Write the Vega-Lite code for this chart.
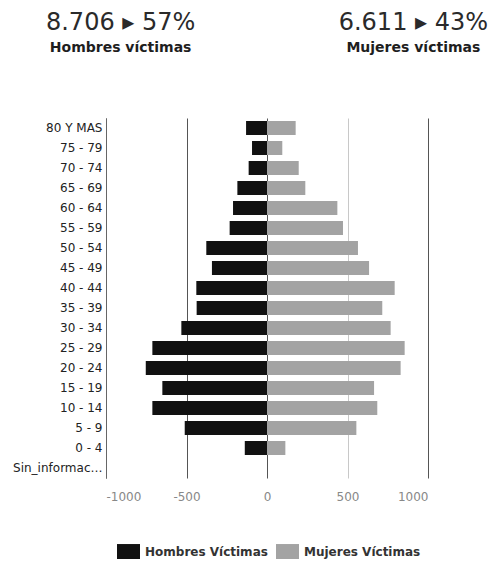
{
  "$schema": "https://vega.github.io/schema/vega-lite/v6.json",
  "padding": {"left": 12, "top": 10, "right": 2, "bottom": 0},
  "background": "white",
  "datasets": {
    "header": [
      {"sexo": "Hombres Víctimas", "total": "8.706 ▸ 57%", "etiqueta": "Hombres víctimas"},
      {"sexo": "Mujeres Víctimas", "total": "6.611 ▸ 43%", "etiqueta": "Mujeres víctimas"}
    ],
    "victimas": [
      {"edad": "80 Y MAS", "sexo": "Hombres Víctimas", "valor": -130},
      {"edad": "75 - 79", "sexo": "Hombres Víctimas", "valor": -93},
      {"edad": "70 - 74", "sexo": "Hombres Víctimas", "valor": -114},
      {"edad": "65 - 69", "sexo": "Hombres Víctimas", "valor": -184},
      {"edad": "60 - 64", "sexo": "Hombres Víctimas", "valor": -211},
      {"edad": "55 - 59", "sexo": "Hombres Víctimas", "valor": -232},
      {"edad": "50 - 54", "sexo": "Hombres Víctimas", "valor": -377},
      {"edad": "45 - 49", "sexo": "Hombres Víctimas", "valor": -342},
      {"edad": "40 - 44", "sexo": "Hombres Víctimas", "valor": -439},
      {"edad": "35 - 39", "sexo": "Hombres Víctimas", "valor": -437},
      {"edad": "30 - 34", "sexo": "Hombres Víctimas", "valor": -532},
      {"edad": "25 - 29", "sexo": "Hombres Víctimas", "valor": -712},
      {"edad": "20 - 24", "sexo": "Hombres Víctimas", "valor": -753},
      {"edad": "15 - 19", "sexo": "Hombres Víctimas", "valor": -650},
      {"edad": "10 - 14", "sexo": "Hombres Víctimas", "valor": -712},
      {"edad": "5 - 9", "sexo": "Hombres Víctimas", "valor": -511},
      {"edad": "0 - 4", "sexo": "Hombres Víctimas", "valor": -138},
      {"edad": "Sin_información", "sexo": "Hombres Víctimas", "valor": 0},
      {"edad": "80 Y MAS", "sexo": "Mujeres Víctimas", "valor": 178},
      {"edad": "75 - 79", "sexo": "Mujeres Víctimas", "valor": 95},
      {"edad": "70 - 74", "sexo": "Mujeres Víctimas", "valor": 197},
      {"edad": "65 - 69", "sexo": "Mujeres Víctimas", "valor": 238},
      {"edad": "60 - 64", "sexo": "Mujeres Víctimas", "valor": 437},
      {"edad": "55 - 59", "sexo": "Mujeres Víctimas", "valor": 472},
      {"edad": "50 - 54", "sexo": "Mujeres Víctimas", "valor": 565},
      {"edad": "45 - 49", "sexo": "Mujeres Víctimas", "valor": 634},
      {"edad": "40 - 44", "sexo": "Mujeres Víctimas", "valor": 793},
      {"edad": "35 - 39", "sexo": "Mujeres Víctimas", "valor": 716},
      {"edad": "30 - 34", "sexo": "Mujeres Víctimas", "valor": 768},
      {"edad": "25 - 29", "sexo": "Mujeres Víctimas", "valor": 855},
      {"edad": "20 - 24", "sexo": "Mujeres Víctimas", "valor": 830},
      {"edad": "15 - 19", "sexo": "Mujeres Víctimas", "valor": 665},
      {"edad": "10 - 14", "sexo": "Mujeres Víctimas", "valor": 685},
      {"edad": "5 - 9", "sexo": "Mujeres Víctimas", "valor": 555},
      {"edad": "0 - 4", "sexo": "Mujeres Víctimas", "valor": 114},
      {"edad": "Sin_información", "sexo": "Mujeres Víctimas", "valor": 0}
    ]
  },
  "bounds": "flush",
  "spacing": 58,
  "resolve": {"scale": {"x": "independent"}},
  "vconcat": [
    {
      "width": 322,
      "height": 50,
      "data": {"name": "header"},
      "encoding": {
        "x": {"field": "sexo", "type": "nominal", "sort": null, "scale": {"type": "point", "padding": 0.05}, "axis": null}
      },
      "layer": [
        {"mark": {"type": "text", "fontSize": 24, "font": "DejaVu Sans", "color": "#2a2a2a", "dy": -12}, "encoding": {"text": {"field": "total"}}},
        {"mark": {"type": "text", "fontSize": 14, "fontWeight": "bold", "font": "DejaVu Sans", "color": "#1e1e1e", "dy": 13}, "encoding": {"text": {"field": "etiqueta"}}}
      ]
    },
    {
      "width": 322,
      "height": 360,
      "data": {"name": "victimas"},
      "mark": {"type": "bar"},
      "encoding": {
        "y": {
          "field": "edad", "type": "nominal",
          "sort": ["80 Y MAS", "75 - 79", "70 - 74", "65 - 69", "60 - 64", "55 - 59", "50 - 54", "45 - 49", "40 - 44", "35 - 39", "30 - 34", "25 - 29", "20 - 24", "15 - 19", "10 - 14", "5 - 9", "0 - 4", "Sin_información"],
          "scale": {"paddingInner": 0.3, "paddingOuter": 0.15},
          "axis": {"title": null, "ticks": false, "domain": true, "domainColor": "#666666", "labelColor": "#222222", "labelFontSize": 12, "labelFont": "DejaVu Sans", "labelPadding": 4, "labelLimit": 92, "grid": false}
        },
        "x": {
          "field": "valor", "type": "quantitative", "stack": null,
          "scale": {"domain": [-1000, 1000]},
          "axis": {
            "title": null, "ticks": false, "domain": false, "grid": true,
            "gridColor": {"condition": {"test": "datum.value === 500", "value": "#c8c8c8"}, "value": "#555555"},
            "values": [-1000, -500, 0, 500, 1000], "format": "d",
            "labelExpr": "replace(datum.label, '−', '-')",
            "labelColor": "#888888", "labelFontSize": 12, "labelFont": "DejaVu Sans", "labelPadding": 13
          }
        },
        "color": {
          "field": "sexo", "type": "nominal",
          "scale": {"domain": ["Hombres Víctimas", "Mujeres Víctimas"], "range": ["#111111", "#a3a3a3"]},
          "legend": {
            "title": null, "orient": "none", "direction": "horizontal",
            "legendX": 11, "legendY": 530,
            "symbolType": "M-1,-0.65H1V0.65H-1Z", "symbolSize": 529, "symbolStrokeWidth": 0,
            "labelFontSize": 12, "labelFontWeight": "bold", "labelFont": "DejaVu Sans", "labelColor": "#333333",
            "columnPadding": 8, "labelOffset": 5
          }
        }
      }
    }
  ],
  "config": {"view": {"stroke": null}}
}
